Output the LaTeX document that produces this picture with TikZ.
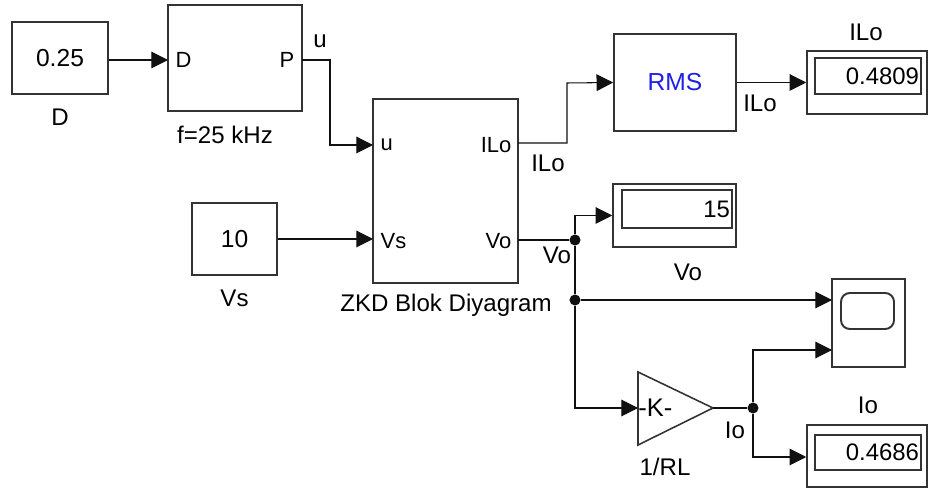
\documentclass[tikz,border=0pt]{standalone}
\usepackage{tikz}
\usetikzlibrary{arrows.meta,positioning,calc}
\usepackage{fontspec}
\setmainfont{Liberation Sans}
\usepackage{xcolor}
\definecolor{Edge}{HTML}{333333}
\definecolor{Wire}{HTML}{111111}
\definecolor{RmsBlue}{HTML}{1F1FE6}
\tikzset{
 blk/.style={draw=Edge, line width=0.9pt, fill=white, inner sep=0pt, font=\fontsize{14}{16}\selectfont},
 disp/.style={blk, minimum width=2.4cm, minimum height=1.26cm},
 dispin/.style={draw=Edge, line width=0.7pt, inner sep=0pt, minimum width=2.12cm, minimum height=0.72cm, align=right, font=\fontsize{13.6}{15}\selectfont},
 port/.style={inner sep=3pt, font=\fontsize{12.5}{14}\selectfont},
 lbl/.style={inner sep=0pt, font=\fontsize{13.7}{15}\selectfont},
 wire/.style={draw=Wire, line width=0.6pt},
 sig/.style={wire, -{Triangle[length=9.5pt,width=9.5pt]}},
 dot/.style={circle, fill=Wire, inner sep=0pt, minimum size=6.3pt}
}
\begin{document}
\begin{tikzpicture}[x=0.02cm,y=-0.02cm]
\useasboundingbox (0,0) rectangle (928,492);
% sources
\node[blk,minimum width=1.92cm,minimum height=1.44cm] (dconst) at (60,58) {0.25};
\node[lbl] at (60,117) {D};
\node[blk,minimum width=1.7cm,minimum height=1.44cm] (vsconst) at (234.5,239) {10};
\node[lbl] at (234.5,298) {Vs};
% pwm
\node[blk,minimum width=2.68cm,minimum height=2.12cm] (pwm) at (235,58) {};
\node[port,anchor=west] at (170,60) {D};
\node[port,anchor=east] at (300,60) {P};
\node[lbl] at (225,135) {f=25 kHz};
% subsystem
\node[blk,minimum width=2.9cm,minimum height=3.68cm] (zkd) at (445.5,191) {};
\node[port,anchor=west] at (375,145) {u};
\node[port,anchor=west] at (375,241) {Vs};
\node[port,anchor=east] at (517,145) {ILo};
\node[port,anchor=east] at (517,241) {Vo};
\node[lbl] at (446,305) {ZKD Blok Diyagram};
% rms
\node[blk,minimum width=2.44cm,minimum height=1.94cm,text=RmsBlue] (rms) at (675,82.5) {RMS};
% displays
\node[disp] (ilodisp) at (867,82.5) {};
\node[dispin,text width=2.04cm] (iloval) at (868,76) {0.4809};
\node[lbl] at (866,32) {ILo};
\node[disp,minimum width=2.46cm] (vodisp) at (674.5,215.5) {};
\node[dispin,minimum width=2.2cm,minimum height=0.76cm,text width=2.12cm] (voval) at (677,209) {15};
\node[lbl] at (688,272) {Vo};
\node[disp,minimum height=1.24cm] (iodisp) at (867,456) {};
\node[dispin,minimum height=0.7cm,text width=2.04cm] (ioval) at (868,452.5) {0.4686};
\node[lbl] at (868,405) {Io};
% scope
\node[blk,minimum width=1.46cm,minimum height=1.76cm] (scope) at (868.5,323) {};
\node[draw=Edge,line width=1.1pt,rounded corners=5pt,minimum width=1.06cm,minimum height=0.72cm,inner sep=0pt] (screen) at (867.5,311) {};
% gain
\coordinate (gin) at (638,408);
\coordinate (gout) at (713,408);
\draw[draw=Edge,line width=0.9pt,fill=white] (638,372) -- (gout) -- (638,445) -- cycle;
\node[port,inner sep=0pt,anchor=west,font=\fontsize{14.5}{16}\selectfont] at (638,408) {-K-};
\node[lbl] at (665,467) {1/RL};
% junctions
\node[dot] (j1) at (575,240) {};
\node[dot] (j2) at (575,300) {};
\node[dot] (j3) at (753,408) {};
% wires
\draw[sig] (dconst.east |- 0,60) -- (168,60);
\draw[sig] (302,60) -- (330,60) -- (330,145) -- (373,145);
\node[lbl] at (320,41) {u};
\draw[sig] (vsconst.east) -- (373,239);
\draw[sig] (518,143) -- (567,143) -- (567,83) -- (rms.west);
\node[lbl] at (548,163) {ILo};
\draw[sig] (rms.east) -- (ilodisp.west);
\node[lbl] at (760,103) {ILo};
\draw[wire] (518,240) -- (j1);
\node[lbl] at (557,255) {Vo};
\draw[sig] (j1) |- (vodisp.west);
\draw[wire] (j1) -- (j2);
\draw[sig] (j2) -- (832,300);
\draw[sig] (j2) |- (gin);
\draw[wire] (gout) -- (j3);
\node[lbl] at (735,430) {Io};
\draw[sig] (j3) |- (832,350);
\draw[sig] (j3) |- (iodisp.west |- 0,457);
\end{tikzpicture}
\end{document}
